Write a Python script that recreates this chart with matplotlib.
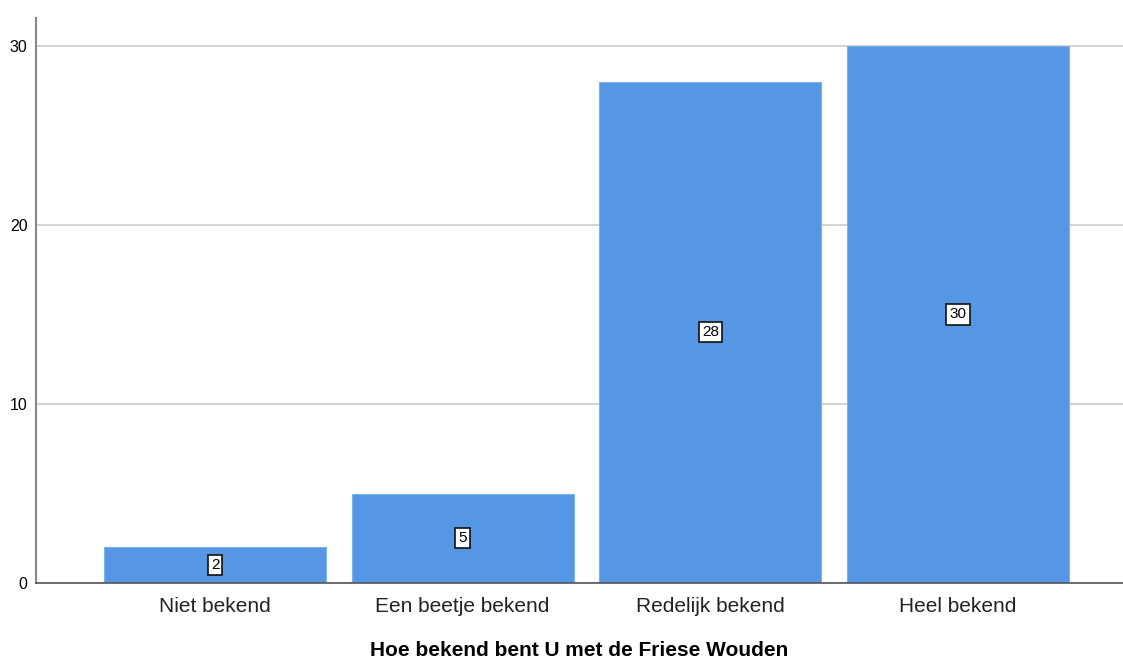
import matplotlib
matplotlib.use('Agg')
import matplotlib.pyplot as plt

plt.rcParams['font.family'] = ['Liberation Sans', 'DejaVu Sans']

categories = ["Niet bekend", "Een beetje bekend", "Redelijk bekend", "Heel bekend"]
counts = [2, 5, 28, 30]
yticks = [0, 10, 20, 30]

fig = plt.figure(figsize=(11.23, 6.59), dpi=100)
ax = fig.add_axes([0.032, 0.1153, 0.968, 0.8574])

x = range(len(categories))
ax.bar(x, counts, width=0.896, color='#5596e5', edgecolor='#7fb0ee', linewidth=0.8, zorder=2)

for xi, v in zip(x, counts):
    ax.text(xi, v / 2, str(v), ha='center', va='center', fontsize=11, zorder=3,
            bbox=dict(boxstyle='square,pad=0.2', facecolor='white', edgecolor='#111111', linewidth=1.2))

ax.set_xlim(-0.723, 3.666)
ax.set_ylim(0, 31.56)
ax.set_yticks(yticks)
ax.set_xticks(list(x))
ax.set_xticklabels(categories, fontsize=15, color='#222222')
ax.tick_params(axis='y', length=0, labelsize=11.5, pad=6)
ax.tick_params(axis='x', length=0, pad=10)
ax.yaxis.grid(True, color='#d4d4d4', linewidth=1.5, zorder=0)
ax.set_axisbelow(True)

for side in ('top', 'right'):
    ax.spines[side].set_visible(False)
ax.spines['left'].set_color('#888888')
ax.spines['bottom'].set_color('#555555')
ax.spines['left'].set_linewidth(1.5)
ax.spines['bottom'].set_linewidth(1.2)

ax.set_xlabel("Hoe bekend bent U met de Friese Wouden", fontsize=15, fontweight='bold', labelpad=18)

fig.savefig('out.png', dpi=100)
